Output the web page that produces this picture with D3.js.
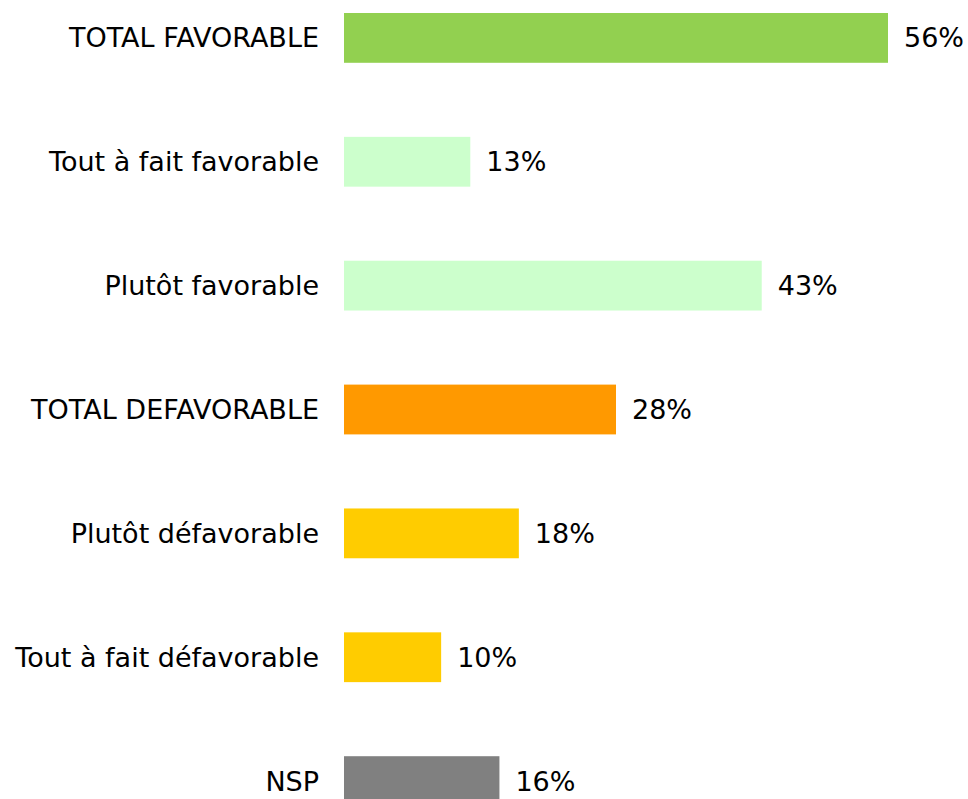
<!DOCTYPE html>
<html>
<head>
<meta charset="utf-8">
<script src="https://cdn.jsdelivr.net/npm/d3@7"></script>
<style>
  html, body { margin: 0; padding: 0; background: #fff; overflow: hidden; }
  svg { display: block; }
  .lbl { font-family: "DejaVu Sans", Verdana, sans-serif; font-size: 27px; fill: #000; }
</style>
</head>
<body>
<svg id="chart" width="968" height="799"></svg>
<script>
// ---------- data ----------
const categories = [
  "TOTAL FAVORABLE",
  "Tout à fait favorable",
  "Plutôt favorable",
  "TOTAL DEFAVORABLE",
  "Plutôt défavorable",
  "Tout à fait défavorable",
  "NSP"
];
const values = [56, 13, 43, 28, 18, 10, 16];
const colors = ["#92d050", "#ccffcc", "#ccffcc", "#ff9900", "#ffcc00", "#ffcc00", "#808080"];

const svg = d3.select("#chart");
const rows = categories.map((c, i) => ({ cat: c, val: values[i], color: colors[i] }));

// ---------- scales ----------
const x = d3.scaleLinear().domain([0, 56]).range([344, 888]);
const y = d3.scaleBand().domain(categories).range([13, 806]).paddingInner(0.598).paddingOuter(0);

// bars
svg.selectAll("rect.bar").data(rows).join("rect")
  .attr("class", "bar")
  .attr("x", x(0))
  .attr("y", d => y(d.cat))
  .attr("width", d => x(d.val) - x(0))
  .attr("height", y.bandwidth())
  .attr("fill", d => d.color);

// category labels
svg.selectAll("text.cat").data(rows).join("text")
  .attr("class", "lbl cat")
  .attr("x", 319)
  .attr("y", d => y(d.cat) + y.bandwidth() / 2)
  .attr("dy", "0.35em")
  .attr("text-anchor", "end")
  .text(d => d.cat);

// value labels
svg.selectAll("text.val").data(rows).join("text")
  .attr("class", "lbl val")
  .attr("x", d => x(d.val) + 16)
  .attr("y", d => y(d.cat) + y.bandwidth() / 2)
  .attr("dy", "0.35em")
  .text(d => d.val + "%");
</script>
</body>
</html>
